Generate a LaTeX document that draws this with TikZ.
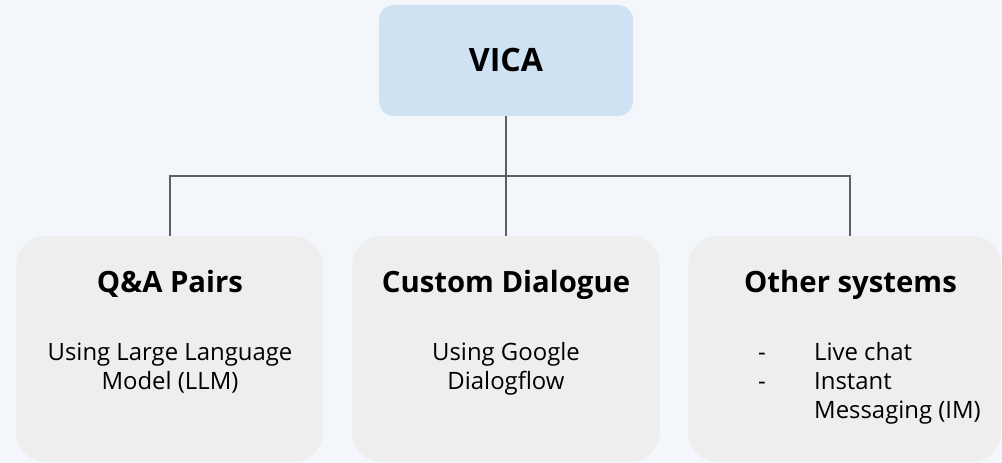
\documentclass[tikz,border=0pt]{standalone}
\usepackage{fontspec}
\setmainfont{Open Sans}
\definecolor{bgc}{HTML}{F3F7FB}
\definecolor{topfill}{HTML}{CFE2F3}
\definecolor{boxfill}{HTML}{EEEEEE}
\definecolor{linec}{HTML}{5F5F5F}
\tikzset{
  card/.style={rectangle, fill=boxfill, rounded corners=30pt, inner sep=0pt, minimum height=226pt},
  topcard/.style={rectangle, fill=topfill, rounded corners=15pt, inner sep=0pt, minimum width=254pt, minimum height=111pt},
  head/.style={anchor=base, inner sep=0pt, font=\fontsize{29.3}{34}\selectfont\bfseries},
  body/.style={anchor=base, inner sep=0pt, font=\fontsize{23.9}{29}\selectfont},
  conn/.style={draw=linec, line width=2pt},
}
\begin{document}
\begin{tikzpicture}[x=1pt,y=-1pt]
\fill[bgc] (0,0) rectangle (1002,463);
\useasboundingbox (0,0) rectangle (1002,463);
\node[topcard] (vica) at (506,60.5) {};
\node[anchor=base, inner sep=0pt, font=\fontsize{32.2}{38}\selectfont\bfseries] (vicat) at (506,71.7) {VICA};
\node[card, minimum width=307pt] (b1) at (169.5,349) {};
\node[card, minimum width=308pt] (b2) at (506,349) {};
\node[card, minimum width=313pt] (b3) at (844.5,349) {};
\coordinate (j) at (506,176);
\coordinate (c3) at (850,236);
\draw[conn] (vica.south) -- (b2.north);
\draw[conn] (b1.north) |- (j) -| (c3);
\node[head] (h1) at (170,292.5) {Q\&A Pairs};
\node[body] (t1a) at (170,360) {Using Large Language};
\node[body] (t1b) at (170,389) {Model (LLM)};
\node[head] (h2) at (506,292.5) {Custom Dialogue};
\node[body] (t2a) at (506,360) {Using Google};
\node[body] (t2b) at (506,389) {Dialogflow};
\node[head] (h3) at (850.5,292.5) {Other systems};
\node[body] (d1) at (762,360) {-};
\node[body] (d2) at (762,389) {-};
\node[body, anchor=base west] (t3a) at (814,360) {Live chat};
\node[body, anchor=base west] (t3b) at (814,389) {Instant};
\node[body, anchor=base west] (t3c) at (814,418) {Messaging (IM)};
\end{tikzpicture}
\end{document}
